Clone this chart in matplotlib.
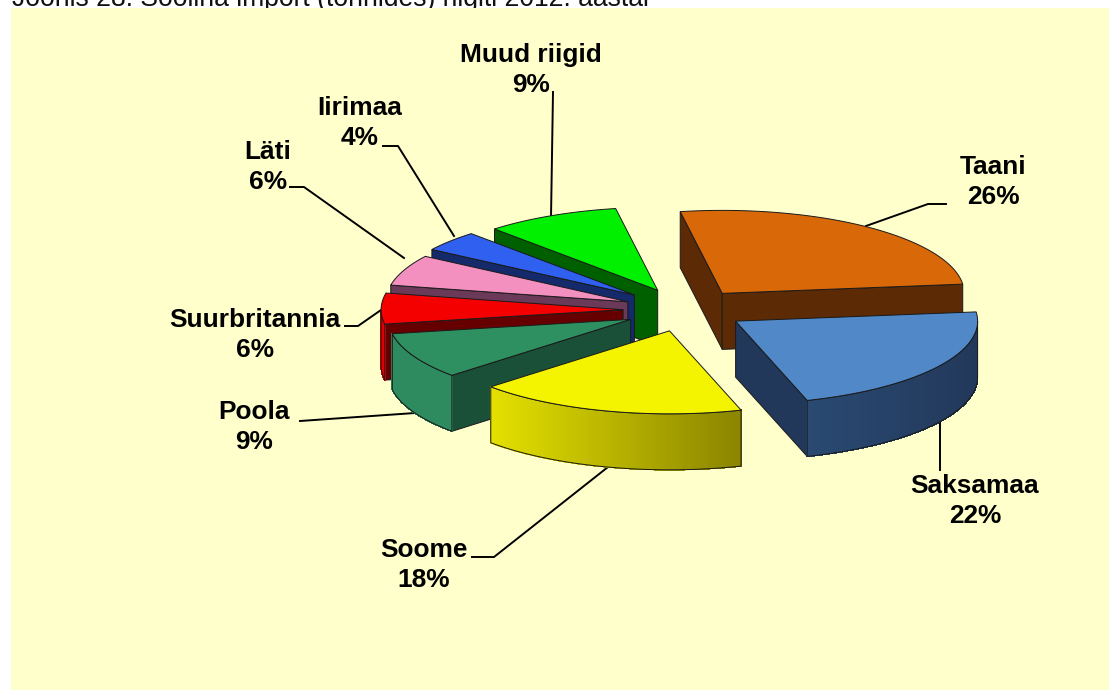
import numpy as np
import matplotlib
matplotlib.use('Agg')
import matplotlib.pyplot as plt
from matplotlib.colors import to_rgb
from matplotlib.patches import Polygon, Rectangle

plt.rcParams['font.family'] = ['Liberation Sans', 'DejaVu Sans']

countries = ['Taani', 'Saksamaa', 'Soome', 'Poola', 'Suurbritannia', 'Läti', 'Iirimaa', 'Muud riigid']
shares = [26, 22, 18, 9, 6, 6, 4, 9]

top_colors = ['#d86808', '#5088c8', '#f4f400', '#2e9060', '#f40000', '#f490c0', '#3060f0', '#00f000']
side_colors = ['#5c2a04', '#22385a', '#8a8400', '#1a5038', '#660000', '#6a3a58', '#142a6a', '#006000']
wall_left = ['#5c2a04', '#2a4a72', '#e4e000', '#2e8b60', '#e00000', '#6a3a58', '#142a6a', '#006000']
wall_right = ['#5c2a04', '#22385a', '#8a8400', '#2e8b60', '#e00000', '#6a3a58', '#142a6a', '#006000']
explode = [0.25, 0.245, 0.26, 0.255, 0.26, 0.26, 0.28, 0.265]

# label centres and leader lines, in pixels
label_xy = [(993, 182), (975, 501), (424, 565), (254, 427), (255, 335), (268, 167), (360, 123), (531, 70)]
leaders = [
    [(946, 204), (928, 204), (866, 226)],
    [(940, 470), (940, 420)],
    [(472, 557), (494, 557), (608, 467)],
    [(300, 421), (415, 413)],
    [(345, 326), (358, 326), (381, 310)],
    [(290, 187), (304, 187), (404, 258)],
    [(383, 146), (398, 146), (454, 236)],
    [(553, 92), (551, 218)],
]

start_deg = 100
rx, ry = 242, 83
depth = 56
cx, cy = 686, 310
draw_order = [7, 6, 5, 4, 3, 2, 0, 1]

fig = plt.figure(figsize=(11.09, 6.90), dpi=100, facecolor='white')
ax = fig.add_axes([0, 0, 1, 1])
ax.set_xlim(0, 1109)
ax.set_ylim(690, 0)
ax.axis('off')

ax.text(12, 6, 'Joonis 28. Soolina import (tonnides) riigiti 2012. aastal', fontsize=19.1,
        color='#111111', ha='left', va='baseline', zorder=0, clip_on=False)
ax.add_patch(Rectangle((11, 8), 1098, 682, facecolor='#ffffcc', edgecolor='none', zorder=1))

for line in leaders:
    ax.plot(*zip(*line), color='black', lw=1.4, zorder=2)


def rim(apex, deg):
    a = np.radians(deg)
    return np.column_stack([apex[0] + rx * np.cos(a), apex[1] - ry * np.sin(a)])


def draw_slice(i, a0, a1, z):
    mid = np.radians((a0 + a1) / 2)
    apex = (cx + explode[i] * rx * np.cos(mid), cy - explode[i] * ry * np.sin(mid))
    arc_deg = np.linspace(a0, a1, 120)
    arc = rim(apex, arc_deg)
    down = np.array([0, depth])

    # radial walls, only where the inside of the slice lies above the wall's edge
    inner = np.array([apex[0] + 0.5 * rx * np.cos(mid), apex[1] - 0.5 * ry * np.sin(mid)])
    for edge in (arc[0], arc[-1]):
        d = edge - np.array(apex)
        side = d[0] * (inner[1] - apex[1]) - d[1] * (inner[0] - apex[0])
        if side * d[0] < 0:
            pts = [apex, edge, edge + down, np.array(apex) + down]
            ax.add_patch(Polygon(pts, closed=True, facecolor=side_colors[i], edgecolor='#1a1a1a', lw=0.7, zorder=z))

    # outer wall, shaded in strips
    front = np.sin(np.radians(arc_deg)) <= 0.0
    if front.sum() > 1:
        pts = arc[front]
        lo, hi = pts[:, 0].min(), pts[:, 0].max()
        c0, c1 = np.array(to_rgb(wall_left[i])), np.array(to_rgb(wall_right[i]))
        for p, q in zip(pts[:-1], pts[1:]):
            t = ((p[0] + q[0]) / 2 - lo) / max(hi - lo, 1)
            quad = [p, q, q + down, p + down]
            col = c0 + (c1 - c0) * t
            ax.add_patch(Polygon(quad, closed=True, facecolor=col, edgecolor=col, lw=0.5,
                                 antialiased=False, zorder=z + 0.1))
        outline = np.vstack([pts, pts[::-1] + down, pts[:1]])
        ax.plot(outline[:, 0], outline[:, 1], color='#1a1a1a', lw=0.7, zorder=z + 0.2)

    top = np.vstack([[apex], arc])
    ax.add_patch(Polygon(top, closed=True, facecolor=top_colors[i], edgecolor='#1a1a1a', lw=0.7, zorder=z + 0.3))


edges = start_deg - np.concatenate([[0], np.cumsum(shares)]) * 3.6
for k, i in enumerate(draw_order):
    draw_slice(i, edges[i], edges[i + 1], 3 + k)

for name, share, (x, y) in zip(countries, shares, label_xy):
    ax.text(x, y, f'{name}\n{share}%', fontsize=18.9, fontweight='bold', color='black',
            ha='center', va='center', linespacing=1.27, zorder=20)

fig.savefig('out.png', dpi=100, facecolor='white')
